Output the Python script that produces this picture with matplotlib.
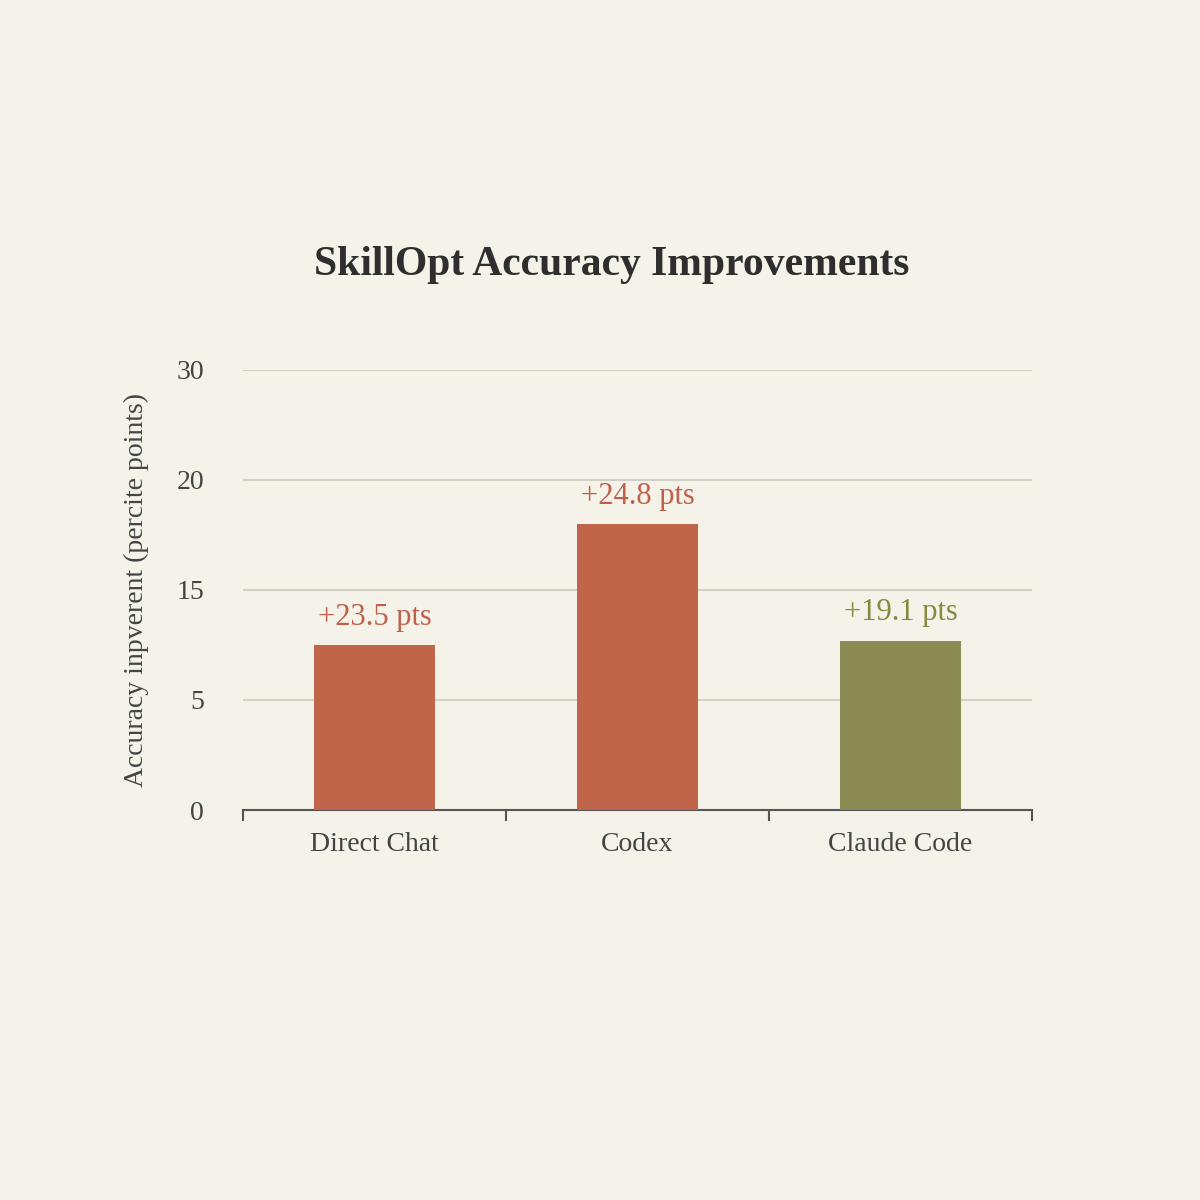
import matplotlib.pyplot as plt

# categories and values
categories = ['Direct Chat', 'Codex', 'Claude Code']
# bar heights in tick-position units (ticks are evenly spaced but labelled 0,5,15,20,30)
bar_heights = [1.5, 2.6, 1.54]
bar_labels = ['+23.5 pts', '+24.8 pts', '+19.1 pts']
bar_colors = ['#C0654A', '#C0654A', '#8A8A52']
label_colors = ['#C0604A', '#C0604A', '#86893F']
tick_labels = ['0', '5', '15', '20', '30']

bg = '#F5F2E9'
plt.rcParams['font.family'] = ['Liberation Serif', 'DejaVu Serif']

fig = plt.figure(figsize=(12, 12), dpi=100, facecolor=bg)
ax = fig.add_axes([0.2025, 0.325, 0.6575, 0.3667], facecolor=bg)

x = range(len(categories))
ax.bar(x, bar_heights, width=0.46, color=bar_colors, zorder=3)
for xi, h, t, c in zip(x, bar_heights, bar_labels, label_colors):
    ax.text(xi, h + 0.12, t, ha='center', va='bottom', fontsize=22, color=c)

ax.set_xlim(-0.5, 2.5)
ax.set_ylim(0, 4)
ax.set_yticks(range(len(tick_labels)))
ax.set_yticklabels(tick_labels, fontsize=20, color='#444444')
ax.tick_params(axis='y', length=0, pad=28)
ax.yaxis.grid(True, color='#D3D0C6', linewidth=1.5, zorder=0)

ax.set_xticks([-0.5, 0.5, 1.5, 2.5])
ax.set_xticklabels([])
ax.tick_params(axis='x', direction='out', length=8, width=1.5, color='#555555')
for xi, name in zip(x, categories):
    ax.text(xi, -0.2, name, ha='center', va='top', fontsize=20, color='#444444',
            transform=ax.transData)

for s in ['top', 'right', 'left']:
    ax.spines[s].set_visible(False)
ax.spines['bottom'].set_color('#555555')
ax.spines['bottom'].set_linewidth(1.5)

ax.set_ylabel('Accuracy inpverent (percite points)', fontsize=20, color='#444444', labelpad=20)
fig.text(0.51, 0.779, 'SkillOpt Accuracy Improvements', ha='center', va='center',
         fontsize=30, fontweight='bold', color='#2E2E2E')

fig.savefig('out.png', dpi=100, facecolor=bg)
